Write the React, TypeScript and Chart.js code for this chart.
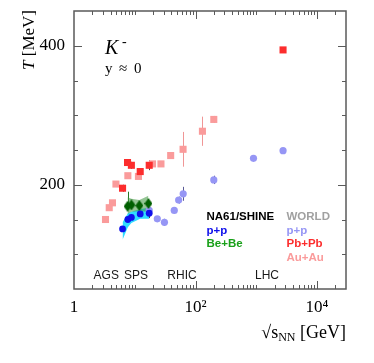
import React, { useEffect, useRef } from 'react';
import { Chart, registerables } from 'chart.js';
Chart.register(...registerables);

// ---- data ----
const na61ppX = [6.3, 7.7, 8.8, 12.3, 17.3];
const na61ppT = [136.5, 150, 153, 158, 159];
const na61ppErr = [3, 3, 3, 4, 7];
const na61ppBandLo = [121, 139, 145, 151, 151];
const na61ppBandHi = [146, 159, 161, 165, 167];

const bebeX = [7.6, 8.8, 11.9, 16.8];
const bebeT = [169, 171, 170, 173];
const bebeErrLo = [3, 3, 3, 3];
const bebeErrHi = [21, 3, 3, 4];
const bebeBandLo = [158, 161, 162, 161];
const bebeBandHi = [182, 180, 178, 184];

const pbpbX = [6.3, 7.6, 8.8, 12.3, 17.3, 2760];
const pbpbT = [195, 232, 228, 219, 228, 394];
const pbpbErr = [5, 5, 5, 5, 7, 0];

const auauX = [3.3, 3.8, 4.3, 4.9, 7.7, 11.5, 19.6, 27, 39, 62.4, 130, 200];
const auauT = [150, 167, 174, 201, 213, 212, 230, 230, 242, 251, 277, 294];
const auauErr = [5, 4, 4, 3, 3, 3, 3, 3, 3, 25, 21, 5];

const worldppX = [17.3, 23.5, 30.8, 44.7, 52.8, 62.7, 200, 900, 2760];
const worldppT = [163, 151, 146, 163, 178, 187, 207, 238, 249];
const worldppErr = [3, 3, 5, 4, 5, 10, 6, 2, 2];

const xTickValues = [1, 100, 10000];
const xTickLabels = ['1', '10²', '10⁴'];
const yTickValues = [200, 400];

const accelNames = ['AGS', 'SPS', 'RHIC', 'LHC'];
const accelEnergies = [3.4, 10.5, 60, 1500];

// ---- colors ----
const C_NA61PP = 'rgb(15,15,235)';
const C_BEBE = 'rgb(0,95,0)';
const C_PBPB = 'rgb(252,45,45)';
const C_AUAU = 'rgb(250,155,155)';
const C_WORLDPP = 'rgb(150,150,245)';
const C_CYAN = 'rgb(50,220,255)';
const C_GREENBAND = 'rgba(60,150,60,0.55)';
const C_FRAME = 'rgb(90,90,90)';

const pts = (xs: number[], ys: number[]) => xs.map((x, i) => ({ x, y: ys[i] }));

function makeDiamond(color: string) {
  const c = document.createElement('canvas');
  c.width = 8;
  c.height = 11;
  const g = c.getContext('2d')!;
  g.fillStyle = color;
  g.beginPath();
  g.moveTo(4, 0);
  g.lineTo(8, 5.5);
  g.lineTo(4, 11);
  g.lineTo(0, 5.5);
  g.closePath();
  g.fill();
  return c;
}

const decor = {
  id: 'decor',
  beforeDatasetsDraw(chart: any) {
    const { ctx } = chart;
    const xs = chart.scales.x;
    const ys = chart.scales.y;
    ctx.save();
    ctx.lineWidth = 1;
    const bars = (X: number[], Y: number[], lo: number[], hi: number[], color: string) => {
      ctx.strokeStyle = color;
      X.forEach((x, i) => {
        if (!lo[i] && !hi[i]) return;
        const px = Math.round(xs.getPixelForValue(x)) + 0.5;
        ctx.beginPath();
        ctx.moveTo(px, ys.getPixelForValue(Y[i] - lo[i]));
        ctx.lineTo(px, ys.getPixelForValue(Y[i] + hi[i]));
        ctx.stroke();
      });
    };
    bars(auauX, auauT, auauErr, auauErr, 'rgb(240,150,150)');
    bars(pbpbX, pbpbT, pbpbErr, pbpbErr, 'rgb(70,70,70)');
    bars(worldppX, worldppT, worldppErr, worldppErr, 'rgb(90,90,150)');
    bars(na61ppX, na61ppT, na61ppErr, na61ppErr, 'rgb(60,60,60)');
    bars(bebeX, bebeT, bebeErrLo, bebeErrHi, 'rgb(40,120,40)');
    ctx.restore();
  },
  afterDraw(chart: any) {
    const { ctx, chartArea: a } = chart;
    const xs = chart.scales.x;
    const ys = chart.scales.y;
    ctx.save();
    // ticks
    ctx.strokeStyle = C_FRAME;
    ctx.lineWidth = 1;
    for (let k = 0; k <= 4; k++) {
      for (let m = 1; m <= 9; m++) {
        const v = m * Math.pow(10, k);
        if (v <= 1 || v >= 30000) continue;
        const len = m === 1 && k % 2 === 0 ? 8 : 4;
        const px = Math.round(xs.getPixelForValue(v)) + 0.5;
        ctx.beginPath();
        ctx.moveTo(px, a.bottom);
        ctx.lineTo(px, a.bottom - len);
        ctx.moveTo(px, a.top);
        ctx.lineTo(px, a.top + len);
        ctx.stroke();
      }
    }
    for (let v = 100; v <= 400; v += 50) {
      const len = yTickValues.includes(v) ? 8 : 4;
      const py = Math.round(ys.getPixelForValue(v)) + 0.5;
      ctx.beginPath();
      ctx.moveTo(a.left, py);
      ctx.lineTo(a.left + len, py);
      ctx.moveTo(a.right, py);
      ctx.lineTo(a.right - len, py);
      ctx.stroke();
    }
    // frame
    ctx.lineWidth = 1.5;
    ctx.strokeRect(a.left, a.top, a.right - a.left, a.bottom - a.top);

    // y title: T [MeV]
    ctx.fillStyle = '#000';
    ctx.textBaseline = 'alphabetic';
    ctx.textAlign = 'left';
    ctx.save();
    ctx.translate(34, 10);
    ctx.rotate(-Math.PI / 2);
    ctx.font = 'italic 17px "Liberation Serif"';
    const wT = ctx.measureText('T').width;
    ctx.font = '17px "Liberation Serif"';
    const wRest = ctx.measureText(' [MeV]').width;
    const start = -(wT + wRest);
    ctx.font = 'italic 17px "Liberation Serif"';
    ctx.fillText('T', start, 0);
    ctx.font = '17px "Liberation Serif"';
    ctx.fillText(' [MeV]', start + wT, 0);
    ctx.restore();

    // x title: sqrt(s_NN) [GeV]
    ctx.font = '18px "Liberation Serif"';
    const wSq = ctx.measureText('√').width;
    const wS = ctx.measureText('s').width;
    const wG = ctx.measureText(' [GeV]').width;
    ctx.font = '12px "Liberation Serif"';
    const wNN = ctx.measureText('NN').width;
    let xx = 346 - (wSq + wS + wNN + wG);
    const base = 338;
    ctx.font = '18px "Liberation Serif"';
    ctx.fillText('√', xx, base);
    xx += wSq;
    ctx.fillText('s', xx, base);
    xx += wS;
    ctx.font = '12px "Liberation Serif"';
    ctx.fillText('NN', xx, base + 3);
    xx += wNN;
    ctx.font = '18px "Liberation Serif"';
    ctx.fillText(' [GeV]', xx, base);

    // K- and y ~ 0
    ctx.font = 'italic 20px "Liberation Serif"';
    ctx.fillText('K', 105, 54);
    ctx.font = '14px "Liberation Serif"';
    ctx.fillText('-', 122, 46);
    ctx.font = '15px "Liberation Serif"';
    ctx.fillText('y', 105, 72.5);
    ctx.fillText('≈', 119, 72.5);
    ctx.fillText('0', 134, 72.5);

    // legend texts
    ctx.textBaseline = 'middle';
    ctx.font = 'bold 11.5px "Liberation Sans"';
    const lt = (t: string, x: number, y: number, c: string) => {
      ctx.fillStyle = c;
      ctx.fillText(t, x, y);
    };
    lt('NA61/SHINE', 206.5, 216.5, '#000');
    lt('WORLD', 286.5, 216.5, 'rgb(160,160,160)');
    lt('p+p', 206.5, 230.5, C_NA61PP);
    lt('Be+Be', 206.5, 244.3, 'rgb(25,160,25)');
    lt('p+p', 286.5, 230.5, C_WORLDPP);
    lt('Pb+Pb', 286.5, 244.3, C_PBPB);
    lt('Au+Au', 286.5, 258, C_AUAU);

    // accelerator labels
    ctx.font = '12px "Liberation Sans"';
    ctx.fillStyle = 'rgb(25,25,25)';
    ctx.textAlign = 'center';
    accelNames.forEach((n, i) => {
      ctx.fillText(n, xs.getPixelForValue(accelEnergies[i]), 276);
    });
    ctx.restore();
  },
};

export default function App() {
  const ref = useRef<HTMLCanvasElement | null>(null);
  useEffect(() => {
    if (!ref.current) return;
    const diamond = makeDiamond(C_BEBE);
    const chart = new Chart(ref.current, {
      type: 'scatter',
      data: {
        datasets: [
          { data: pts(na61ppX, na61ppT), pointStyle: 'circle', pointRadius: 3.4, backgroundColor: C_NA61PP, borderWidth: 0 } as any,
          { data: pts(bebeX, bebeT), pointStyle: diamond, pointRadius: 5, backgroundColor: C_BEBE, borderWidth: 0 } as any,
          { data: pts(pbpbX, pbpbT), pointStyle: 'rect', pointRadius: 5, backgroundColor: C_PBPB, borderWidth: 0 } as any,
          { data: pts(auauX, auauT), pointStyle: 'rect', pointRadius: 5, backgroundColor: C_AUAU, borderWidth: 0 } as any,
          { data: pts(worldppX, worldppT), pointStyle: 'circle', pointRadius: 3.6, backgroundColor: C_WORLDPP, borderWidth: 0 } as any,
          { type: 'line', data: pts(bebeX, bebeBandLo), showLine: true, pointRadius: 0, borderWidth: 0, borderColor: 'transparent', fill: false } as any,
          { type: 'line', data: pts(bebeX, bebeBandHi), showLine: true, pointRadius: 0, borderWidth: 0, borderColor: 'transparent', fill: '-1', backgroundColor: C_GREENBAND } as any,
          { type: 'line', data: pts(na61ppX, na61ppBandLo), showLine: true, pointRadius: 0, borderWidth: 0, borderColor: 'transparent', fill: false } as any,
          { type: 'line', data: pts(na61ppX, na61ppBandHi), showLine: true, pointRadius: 0, borderWidth: 0, borderColor: 'transparent', fill: '-1', backgroundColor: C_CYAN } as any,
        ],
      },
      options: {
        responsive: false,
        animation: false,
        layout: { padding: { top: 11, right: 28, left: 0, bottom: 0 } },
        plugins: { legend: { display: false }, tooltip: { enabled: false } },
        scales: {
          x: {
            type: 'logarithmic',
            min: 1,
            max: 30000,
            grid: { display: false, drawTicks: false },
            border: { display: false },
            afterBuildTicks: (s: any) => {
              const t: any[] = [];
              for (let k = 0; k <= 4; k++) for (let m = 1; m <= 9; m++) {
                const v = m * Math.pow(10, k);
                if (v <= 30000) t.push({ value: v });
              }
              s.ticks = t;
            },
            afterFit: (s: any) => { s.height = 74; s.paddingLeft = 0; s.paddingRight = 0; },
            ticks: {
              autoSkip: false,
              maxRotation: 0,
              padding: 8,
              color: '#000',
              font: { family: 'Liberation Serif', size: 17 },
              callback: (v: any) => {
                const i = xTickValues.indexOf(Number(v));
                return i >= 0 ? xTickLabels[i] : '';
              },
            },
          },
          y: {
            type: 'linear',
            min: 50,
            max: 450,
            grid: { display: false, drawTicks: false },
            border: { display: false },
            afterBuildTicks: (s: any) => {
              const t: any[] = [];
              for (let v = 50; v <= 450; v += 50) t.push({ value: v });
              s.ticks = t;
            },
            afterFit: (s: any) => { s.width = 74; s.paddingTop = 0; s.paddingBottom = 0; },
            ticks: {
              autoSkip: false,
              padding: 9,
              color: '#000',
              font: { family: 'Liberation Serif', size: 17 },
              callback: (v: any) => (yTickValues.includes(Number(v)) ? String(v) : ''),
            },
          },
        },
      },
      plugins: [decor],
    } as any);
    return () => chart.destroy();
  }, []);
  return (
    <div style={{ position: 'fixed', left: 0, top: 0, width: 374, height: 363, background: '#fff' }}>
      <canvas ref={ref} width={374} height={363} style={{ display: 'block' }} />
    </div>
  );
}
